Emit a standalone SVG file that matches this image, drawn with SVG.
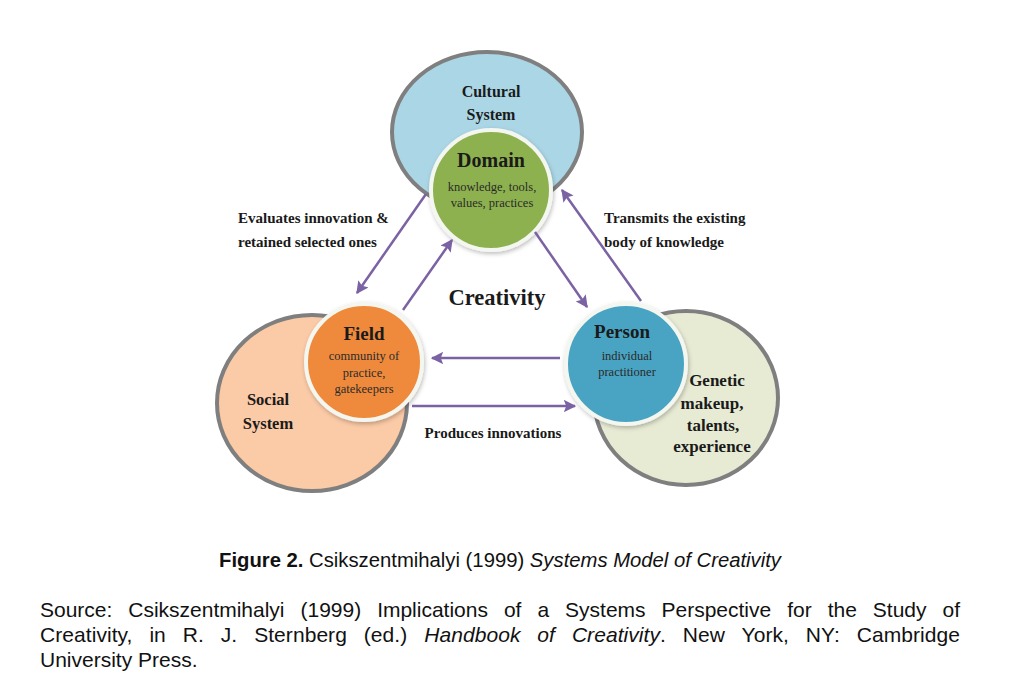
<svg xmlns="http://www.w3.org/2000/svg" width="1024" height="686" viewBox="0 0 1024 686">
<defs>
<style>
.outer{stroke:#7f7f7f;stroke-width:4}
.inner{stroke:#f4f6f0;stroke-width:4}
.lbl{font-family:"Liberation Serif","Times New Roman",serif;font-weight:bold;fill:#1a1a1a;text-anchor:middle}
.sub{font-family:"Liberation Serif","Times New Roman",serif;fill:#2a2a2a;text-anchor:middle;font-size:12.5px}
.edge{font-family:"Liberation Serif","Times New Roman",serif;font-weight:bold;fill:#1a1a1a;font-size:15px}
.conn{stroke:#7a62a3;stroke-width:2.5;fill:none;marker-end:url(#ah)}
.cap{font-family:"Liberation Sans",Arial,sans-serif;fill:#111;font-size:20px}
.src{font-family:"Liberation Sans",Arial,sans-serif;fill:#111;font-size:21px}
</style>
<marker id="ah" viewBox="0 0 10 10" refX="9" refY="5" markerWidth="5" markerHeight="5" orient="auto" markerUnits="strokeWidth">
<path d="M0,0 L10,5 L0,10 L2,5 Z" fill="#7a62a3"/>
</marker>
<filter id="sh" x="-20%" y="-20%" width="140%" height="140%">
<feDropShadow dx="1" dy="2" stdDeviation="2" flood-color="#000" flood-opacity="0.25"/>
</filter>
</defs>
<rect width="1024" height="686" fill="#ffffff"/>

<g id="cultural-system">
<ellipse cx="487" cy="132" rx="95" ry="80" fill="#abd6e5" class="outer"/>
<text class="lbl" x="491" y="97" font-size="16">Cultural</text>
<text class="lbl" x="491" y="120" font-size="16">System</text>
</g>
<g id="social-system">
<ellipse cx="312" cy="403" rx="95" ry="88" fill="#fbcaa6" class="outer"/>
<text class="lbl" x="268" y="405" font-size="16.5">Social</text>
<text class="lbl" x="268" y="429" font-size="16.5">System</text>
</g>
<g id="genetic">
<ellipse cx="686" cy="398" rx="92" ry="87" fill="#e7ebd4" class="outer"/>
<text class="lbl" x="717" y="386" font-size="17">Genetic</text>
<text class="lbl" x="712" y="409" font-size="17">makeup,</text>
<text class="lbl" x="713" y="431" font-size="17">talents,</text>
<text class="lbl" x="712" y="452" font-size="17">experience</text>
</g>

<g id="domain">
<circle cx="491" cy="190" r="60" fill="#8db150" class="inner" filter="url(#sh)"/>
<text class="lbl" x="491" y="167" font-size="20">Domain</text>
<text class="sub" x="492" y="191">knowledge, tools,</text>
<text class="sub" x="492" y="207">values, practices</text>
</g>
<g id="field">
<circle cx="364" cy="362" r="58" fill="#ef8a3c" class="inner" filter="url(#sh)"/>
<text class="lbl" x="364" y="340" font-size="19">Field</text>
<text class="sub" x="364" y="360">community of</text>
<text class="sub" x="364" y="377">practice,</text>
<text class="sub" x="364" y="393">gatekeepers</text>
</g>
<g id="person">
<circle cx="626" cy="364" r="60" fill="#49a4c3" class="inner" filter="url(#sh)"/>
<text class="lbl" x="622" y="338" font-size="19">Person</text>
<text class="sub" x="627" y="360">individual</text>
<text class="sub" x="627" y="376">practitioner</text>
</g>

<g id="connectors">
<line class="conn" x1="426" y1="194" x2="357" y2="293"/>
<line class="conn" x1="403" y1="310" x2="452" y2="240"/>
<line class="conn" x1="535" y1="232" x2="587" y2="307"/>
<line class="conn" x1="641" y1="301" x2="562" y2="190"/>
<line class="conn" x1="560" y1="358" x2="432" y2="358"/>
<line class="conn" x1="412" y1="406" x2="575" y2="406"/>
</g>

<g id="labels">
<text class="edge" x="238" y="223">Evaluates innovation &amp;</text>
<text class="edge" x="238" y="247">retained selected ones</text>
<text class="edge" x="604" y="223">Transmits the existing</text>
<text class="edge" x="604" y="247">body of knowledge</text>
<text class="lbl" x="497" y="305" font-size="22.5">Creativity</text>
<text class="edge" x="493" y="438" text-anchor="middle" font-size="15.5">Produces innovations</text>
</g>

<g id="caption">
<text class="cap" x="219" y="567" textLength="562" lengthAdjust="spacingAndGlyphs"><tspan font-weight="bold">Figure 2.</tspan> Csikszentmihalyi (1999) <tspan font-style="italic">Systems Model of Creativity</tspan></text>
<text class="src" x="40" y="617" word-spacing="10.2" textLength="920" lengthAdjust="spacing">Source: Csikszentmihalyi (1999) Implications of a Systems Perspective for the Study of</text>
<text class="src" x="40" y="642" word-spacing="11" textLength="920" lengthAdjust="spacing">Creativity, in R. J. Sternberg (ed.) <tspan font-style="italic">Handbook of Creativity</tspan>. New York, NY: Cambridge</text>
<text class="src" x="40" y="667">University Press.</text>
</g>
</svg>
